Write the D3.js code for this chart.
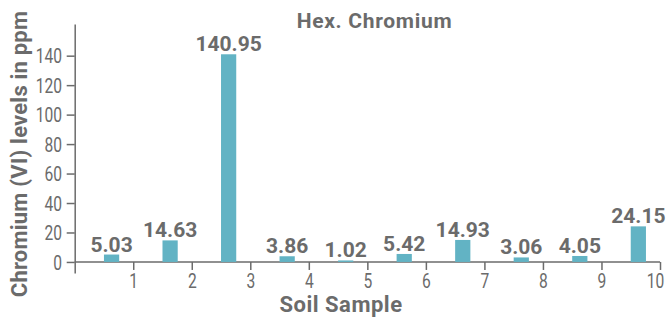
<!DOCTYPE html>
<html>
<head>
<meta charset="utf-8">
<script src="https://cdn.jsdelivr.net/npm/d3@7"></script>
<style>
  body{margin:0;background:#fff;}
  text{font-family:Roboto,"Liberation Sans",sans-serif;fill:#6b6b6b;}
  .tick text{font-family:Roboto,sans-serif;font-size:20px;fill:#6b6b6b;}
  .domain,.tick line{stroke:#6b6b6b;stroke-width:1.5;}
</style>
</head>
<body>
<svg id="chart" width="668" height="317"></svg>
<script>
// Hex. Chromium per soil sample
const samples=[1,2,3,4,5,6,7,8,9,10];
const chromium=[5.03,14.63,140.95,3.86,1.02,5.42,14.93,3.06,4.05,24.15];
const yTicks=[0,20,40,60,80,100,120,140];

const svg=d3.select("#chart");
const x=d3.scaleLinear().domain([0,10]).range([74.7,660]);
const y=d3.scaleLinear().domain([-7.5,161.5]).range([273,24]);
const barW=0.26;
const squeeze=0.78; // narrow digits like the original condensed face

// x axis sits on zero
svg.append("g")
  .attr("transform","translate(0,"+y(0)+")")
  .call(d3.axisBottom(x).tickValues(samples).tickSize(8).tickSizeOuter(0).tickPadding(4))
  .call(g=>g.select(".domain").attr("d","M"+x(0)+",0H"+x(10)))
  .call(g=>g.selectAll(".tick text")
     .attr("transform",d=>"translate("+(d==10?-5:0)+",0) scale("+squeeze+",1)"));

svg.append("g")
  .attr("transform","translate("+x(0)+",0)")
  .call(d3.axisLeft(y).tickValues(yTicks).tickSize(8).tickSizeOuter(0))
  .call(g=>g.selectAll(".tick text").attr("dy","0.36em")
     .attr("x",-12.7/squeeze).attr("transform","scale("+squeeze+",1)"));

svg.selectAll(".bar").data(chromium).enter().append("rect")
  .attr("class","bar")
  .attr("x",(d,i)=>x(samples[i]-0.5))
  .attr("width",x(barW)-x(0))
  .attr("y",d=>y(d))
  .attr("height",d=>y(0)-y(d))
  .attr("fill","#62b3c4");

svg.selectAll(".lbl").data(chromium).enter().append("text")
  .attr("class","lbl")
  .attr("x",(d,i)=>x(samples[i]-0.5+barW/2))
  .attr("y",d=>y(d)-3)
  .attr("text-anchor","middle")
  .style("font-size","21px").style("font-weight","bold")
  .text(d=>d.toFixed(2));

svg.append("text").attr("x",374.5).attr("y",28).attr("text-anchor","middle")
  .style("font-size","21px").style("font-weight","bold").style("letter-spacing","0.7px")
  .text("Hex. Chromium");

svg.append("text").attr("x",341).attr("y",312).attr("text-anchor","middle")
  .style("font-size","22px").style("font-weight","bold").style("letter-spacing","0.5px")
  .text("Soil Sample");

svg.append("text").attr("transform","translate(27,154) rotate(-90)").attr("text-anchor","middle")
  .style("font-size","22px").style("font-weight","bold").style("letter-spacing","0.2px")
  .text("Chromium (VI) levels in ppm");
</script>
</body>
</html>
